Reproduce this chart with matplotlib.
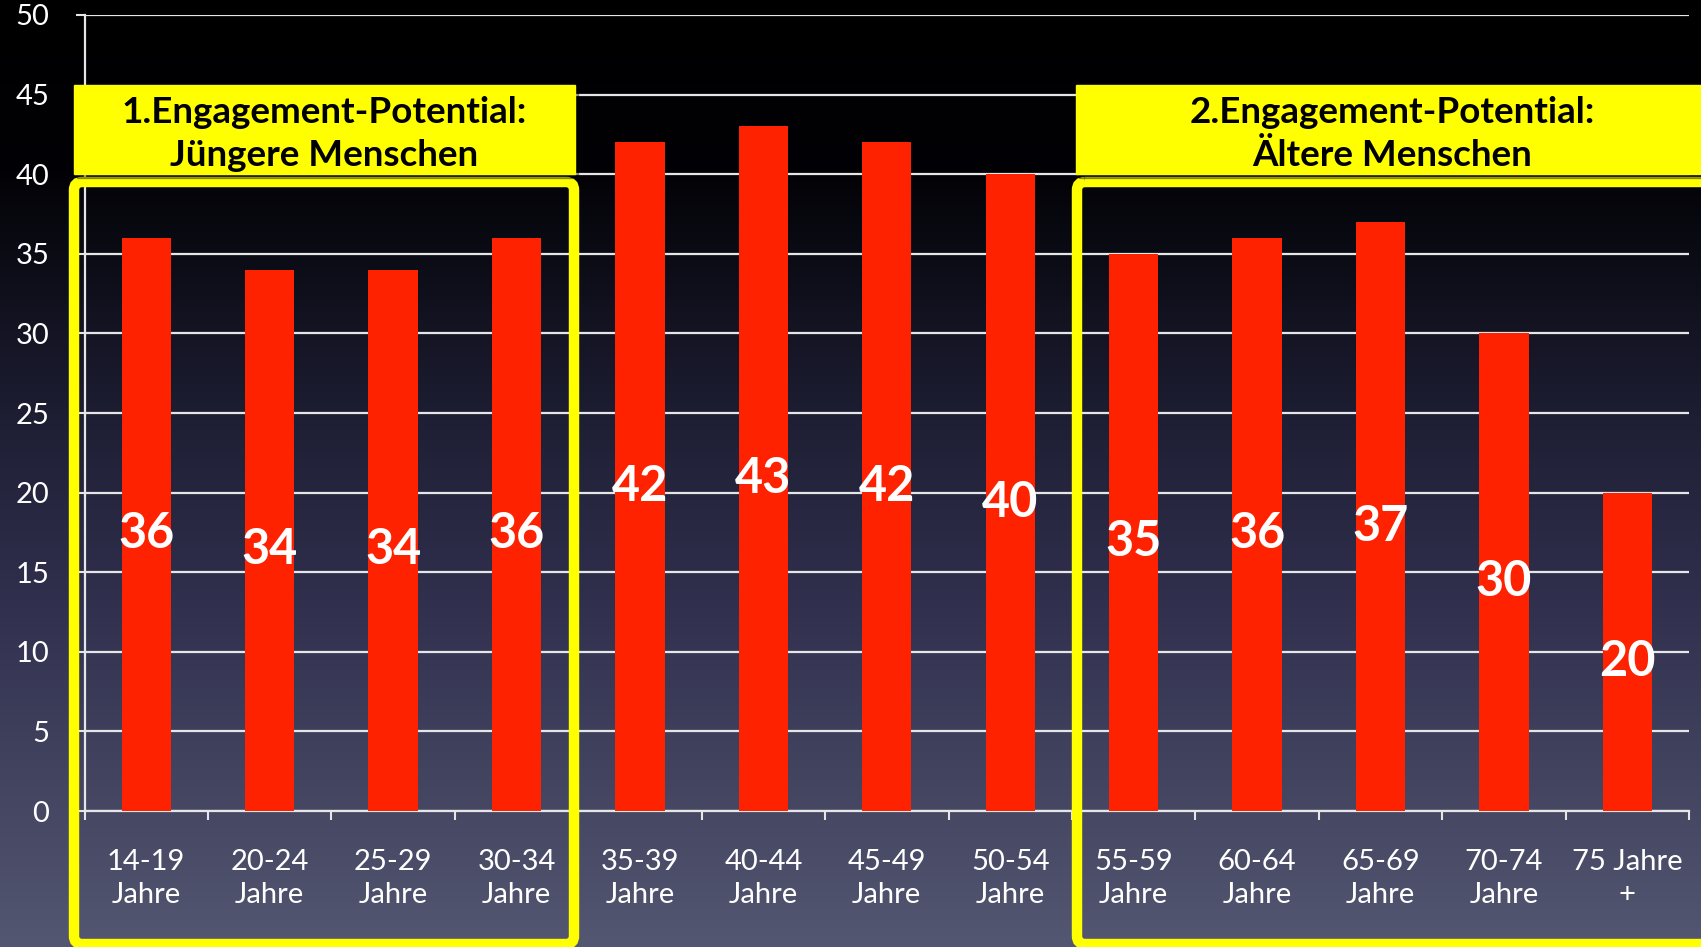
import numpy as np
import matplotlib
matplotlib.use("Agg")
import matplotlib.pyplot as plt
from matplotlib.patches import Rectangle, FancyBboxPatch

plt.rcParams['font.family'] = ['Lato', 'DejaVu Sans']

# data
categories = ['14-19\nJahre', '20-24\nJahre', '25-29\nJahre', '30-34\nJahre',
              '35-39\nJahre', '40-44\nJahre', '45-49\nJahre', '50-54\nJahre',
              '55-59\nJahre', '60-64\nJahre', '65-69\nJahre', '70-74\nJahre',
              '75 Jahre\n+']
values = [36, 34, 34, 36, 42, 43, 42, 40, 35, 36, 37, 30, 20]
yticks = list(range(0, 51, 5))
banner_left = '1.Engagement-Potential:\nJüngere Menschen'
banner_right = '2.Engagement-Potential:\nÄltere Menschen'

W, H = 1701, 947
fig = plt.figure(figsize=(W / 100, H / 100), dpi=100)

# background gradient (black top -> slate blue bottom)
bg = fig.add_axes([0, 0, 1, 1], zorder=0)
ys = np.linspace(0, H, 400)
stops_y = [0, 170, 420, 600, 947]
stops_c = np.array([[0, 0, 0], [2, 2, 6], [30, 30, 52], [48, 48, 78], [84, 87, 113]]) / 255
grad = np.stack([np.interp(ys, stops_y, stops_c[:, k]) for k in range(3)], axis=1)
bg.imshow(grad[:, None, :], aspect='auto', extent=[0, W, H, 0])
bg.set_xlim(0, W)
bg.set_ylim(H, 0)
bg.axis('off')

# main chart
ax = fig.add_axes([84.6 / W, 1 - 811 / H, (1689 - 84.6) / W, (811 - 15) / H], zorder=2)
ax.patch.set_alpha(0)
x = np.arange(len(values))
ax.bar(x, values, width=0.4, color='#ff2200', zorder=3)
for xi, v in zip(x, values):
    ax.text(xi, v / 2 - 0.6, str(v), color='white', fontsize=35, fontweight='bold',
            ha='center', va='center', zorder=4)

ax.set_xlim(-0.5, len(values) - 0.5)
ax.set_ylim(0, 50)
ax.set_yticks(yticks)
ax.set_yticklabels([str(t) for t in yticks])
ax.yaxis.grid(True, color='#e6e6e6', lw=1.6, zorder=1)
ax.set_axisbelow(True)

ax.set_xticks(np.arange(-0.5, len(values), 1.0))
ax.set_xticklabels([])
ax.set_xticks(x, minor=True)
ax.set_xticklabels(categories, minor=True, fontsize=21, color='white', linespacing=1.33)
ax.tick_params(axis='x', which='major', direction='out', length=6.5, width=1.5, color='#e6e6e6')
ax.tick_params(axis='x', which='minor', length=0, pad=27.5)
ax.tick_params(axis='y', direction='out', length=6.5, width=1.5, color='#e6e6e6',
               labelsize=21, labelcolor='white', pad=19)

for s in ['top', 'right']:
    ax.spines[s].set_visible(False)
for s in ['left', 'bottom']:
    ax.spines[s].set_color('#e6e6e6')
    ax.spines[s].set_linewidth(1.6)

# yellow annotations on an overlay in pixel coordinates
ov = fig.add_axes([0, 0, 1, 1], zorder=5)
ov.patch.set_alpha(0)
ov.set_xlim(0, W)
ov.set_ylim(H, 0)
ov.axis('off')

yellow = '#ffff00'
for (x0, x1) in [(74, 574), (1077, 1720)]:
    ov.add_patch(FancyBboxPatch((x0, 182), x1 - x0, 944 - 182,
                                boxstyle='round,pad=0,rounding_size=8',
                                fill=False, ec=yellow, lw=7.5))

for (x0, x1, tx, txt) in [(74, 575, 324, banner_left), (1076, 1701, 1392, banner_right)]:
    ov.add_patch(Rectangle((x0 + 3, 89), x1 - x0, 89, color='#000000', alpha=0.35))
    ov.add_patch(Rectangle((x0, 85), x1 - x0, 89, color=yellow))
    ov.text(tx, 134, txt, ha='center', va='center', fontsize=26.5, fontweight='bold',
            color='black', linespacing=1.38)

fig.savefig('out.png', dpi=100)
